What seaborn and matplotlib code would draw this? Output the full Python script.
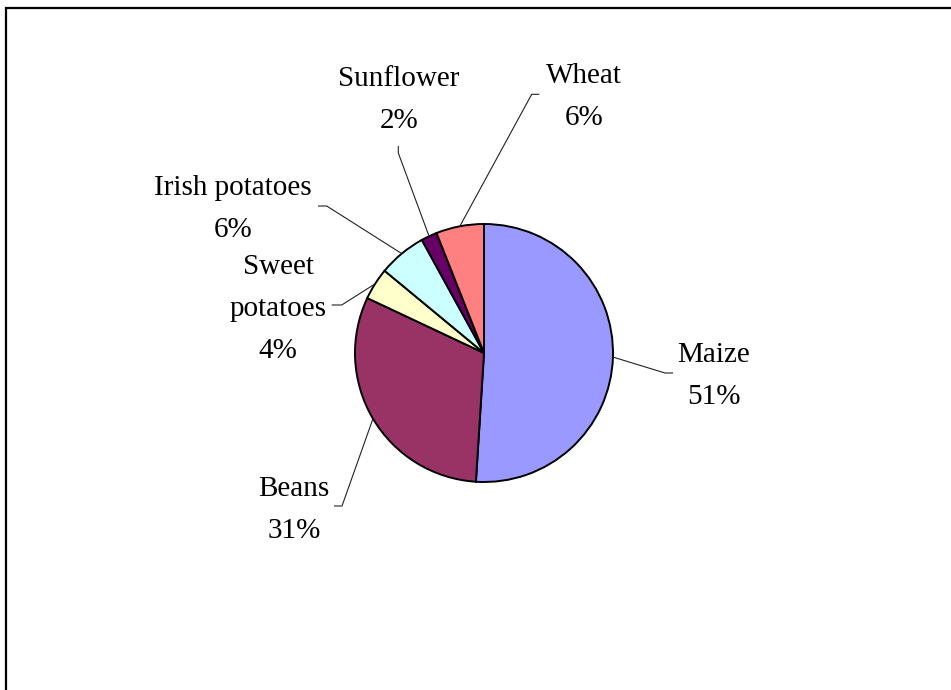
import matplotlib
matplotlib.use("Agg")
import matplotlib.pyplot as plt
import numpy as np
import seaborn as sns

# Crop shares (percent of cultivated area)
crops = ["Maize", "Beans", "Sweet potatoes", "Irish potatoes", "Sunflower", "Wheat"]
shares = [51, 31, 4, 6, 2, 6]
colors = ["#9999FF", "#993366", "#FFFFCC", "#CCFFFF", "#660066", "#FF8080"]

# How each name is broken across lines in its label
label_lines = {"Sweet potatoes": ["Sweet", "potatoes"]}

sns.set_theme(style="white")
plt.rcParams["font.family"] = ["Liberation Serif", "DejaVu Serif"]

W, H = 951, 690
fig = plt.figure(figsize=(W / 100, H / 100), dpi=100)
ax = fig.add_axes([0, 0, 1, 1])
ax.set_xlim(0, W)
ax.set_ylim(0, H)
ax.set_aspect("equal")
ax.axis("off")


def px(x, y):
    """Convert a top-left pixel position into data coordinates."""
    return x, H - y


center = px(484, 353)
radius = 129

wedges, _ = ax.pie(
    shares,
    colors=colors,
    startangle=90,
    counterclock=False,
    center=center,
    radius=radius,
    wedgeprops=dict(edgecolor="black", linewidth=1.4),
    frame=True,
)
ax.set_xlim(0, W)
ax.set_ylim(0, H)
ax.axis("off")

# Label layout: first text baseline, leader elbow and leader tail end (pixels)
layout = {
    "Maize":          dict(text=(714, 362), elbow=(665, 373), tail=(673, 373)),
    "Beans":          dict(text=(294, 496), elbow=(342, 506), tail=(334, 506)),
    "Sweet potatoes": dict(text=(278, 274), elbow=(341.7, 305), tail=(331.7, 305)),
    "Irish potatoes": dict(text=(233, 195), elbow=(326.7, 206), tail=(318, 206)),
    "Sunflower":      dict(text=(399, 86), elbow=(398.3, 153), tail=(398.3, 146)),
    "Wheat":          dict(text=(584, 83), elbow=(531.7, 94.3), tail=(539.3, 94.3)),
}
line_step = 42

for wedge, name, share in zip(wedges, crops, shares):
    mid = np.deg2rad((wedge.theta1 + wedge.theta2) / 2)
    start = (center[0] + radius * np.cos(mid), center[1] + radius * np.sin(mid))
    spec = layout[name]
    ex, ey = px(*spec["elbow"])
    tx, ty = px(*spec["tail"])
    ax.plot([start[0], ex, tx], [start[1], ey, ty], color="#222222", lw=0.8,
            solid_capstyle="butt", zorder=3)
    lines = label_lines.get(name, [name]) + [f"{share}%"]
    x0, y0 = spec["text"]
    for k, line in enumerate(lines):
        lx, ly = px(x0, y0 + k * line_step)
        ax.text(lx, ly, line, ha="center", va="baseline", fontsize=21,
                color="black", zorder=4)

# Chart-area frame (top and left edges visible)
fx, fy = px(6, 8)
ax.plot([fx, fx, W + 10], [-10, fy, fy], color="black", lw=1.6,
        solid_joinstyle="miter", zorder=5)

fig.savefig("out.png", dpi=100, facecolor="white")
